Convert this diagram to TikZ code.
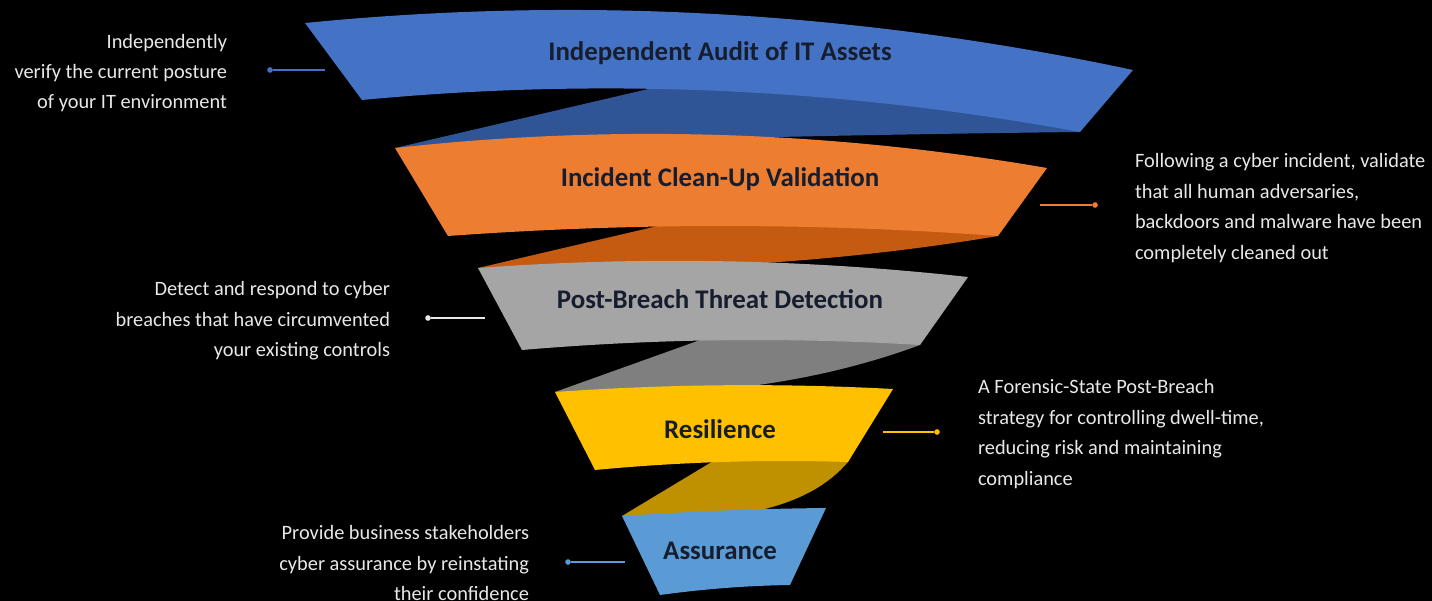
\documentclass[tikz,border=0pt]{standalone}
\usepackage{fontspec}
\setmainfont{Carlito}
\usetikzlibrary{calc}

\definecolor{auditblue}{HTML}{4472C4}
\definecolor{auditdark}{HTML}{2F5597}
\definecolor{cleanorange}{HTML}{ED7D31}
\definecolor{cleandark}{HTML}{C55A11}
\definecolor{breachgray}{HTML}{A5A5A5}
\definecolor{breachdark}{HTML}{7F7F7F}
\definecolor{resgold}{HTML}{FFC000}
\definecolor{resdark}{HTML}{BF9000}
\definecolor{assureblue}{HTML}{5B9BD5}
\definecolor{notegray}{HTML}{E8E8E8}
\definecolor{labelink}{HTML}{161D2E}

% front of a funnel band: corners tl, tr, br, bl and bulge points tc, bc
\newcommand\DrawBand[2]{%
  \fill[#1] (#2tl) .. controls ($(#2tl)!2/3!(#2tc)$) and ($(#2tr)!2/3!(#2tc)$) .. (#2tr)
    -- (#2br) .. controls ($(#2br)!2/3!(#2bc)$) and ($(#2bl)!2/3!(#2bc)$) .. (#2bl)
    -- cycle;
}
% back of a band, turning from its lower right corner into the next band
\newcommand\DrawTwist[3]{%
  \fill[#1] (#3tl) -- (#2d) -- (#2u) -- (#2v) -- (#2br)
    .. controls ($(#2br)!2/3!(#2c)$) and ($(#3tl)!2/3!(#2c)$) .. (#3tl) -- cycle;
}

\tikzset{%
  x=0.02cm, y=-0.02cm, % one unit per pixel
  inner sep=0pt,%
  outer sep=0pt,%
  band label/.style={font=\fontsize{15.3}{18}\selectfont\bfseries, text=labelink},
  note/.style={font=\fontsize{11.6}{17.3}\selectfont, text=notegray},
  lead/.style={line width=1.1pt},
  lead dot/.style={circle, minimum size=3.2pt, fill}%
}

\begin{document}
\begin{tikzpicture}

\useasboundingbox (0,0) rectangle (1432,601);
\fill[black] (0,0) rectangle (1432,601);

%% band corners and bulge points

\coordinate (b1tl) at (305,23);   \coordinate (b1tc) at (719,-18); \coordinate (b1tr) at (1133,70);
\coordinate (b1br) at (1080,132); \coordinate (b1bc) at (721,66);  \coordinate (b1bl) at (362,100);

\coordinate (b2tl) at (395,148);  \coordinate (b2tc) at (721,112); \coordinate (b2tr) at (1047,168);
\coordinate (b2br) at (998,236);  \coordinate (b2bc) at (723,216); \coordinate (b2bl) at (448,236);

\coordinate (b3tl) at (478,268);  \coordinate (b3tc) at (723,250); \coordinate (b3tr) at (968,277);
\coordinate (b3br) at (920,345);  \coordinate (b3bc) at (721,333); \coordinate (b3bl) at (522,350);

\coordinate (b4tl) at (555,392);  \coordinate (b4tc) at (724,380); \coordinate (b4tr) at (893,389);
\coordinate (b4br) at (848,462);  \coordinate (b4bc) at (721,458); \coordinate (b4bl) at (595,470);

\coordinate (b5tl) at (622,516);  \coordinate (b5tc) at (724,509); \coordinate (b5tr) at (826,508);
\coordinate (b5br) at (790,585);  \coordinate (b5bc) at (725,586); \coordinate (b5bl) at (660,595);

%% back sides (d on the lower edge, u and v hidden inside the band, c bends the fold)

\coordinate (b1d) at (657,87);  \coordinate (b1u) at (660,66);  \coordinate (b1v) at (1092,92);  \coordinate (b1c) at (730,136);
\coordinate (b2d) at (662,225); \coordinate (b2u) at (665,205); \coordinate (b2v) at (1005,212); \coordinate (b2c) at (760,276);
\coordinate (b3d) at (703,339); \coordinate (b3u) at (706,320); \coordinate (b3v) at (925,325);  \coordinate (b3c) at (760,404);
\coordinate (b4d) at (715,460); \coordinate (b4u) at (718,445); \coordinate (b4v) at (853,447);  \coordinate (b4c) at (790,530);

\DrawTwist{auditdark}{b1}{b2}
\DrawTwist{cleandark}{b2}{b3}
\DrawTwist{breachdark}{b3}{b4}
\DrawTwist{resdark}{b4}{b5}

%% front sides

\DrawBand{auditblue}{b1}
\DrawBand{cleanorange}{b2}
\DrawBand{breachgray}{b3}
\DrawBand{resgold}{b4}
\DrawBand{assureblue}{b5}

\node[band label, anchor=base] (l1) at (720,61) {Independent Audit of IT Assets};
\node[band label, anchor=base] (l2) at (720,187) {Incident Clean-Up Validation};
\node[band label, anchor=base] (l3) at (720,308) {Post-Breach Threat Detection};
\node[band label, anchor=base] (l4) at (720,438) {Resilience};
\node[band label, anchor=base] (l5) at (720,559) {Assurance};

%% notes and their leads

\node[note, anchor=east, align=right] (n1) at (227,73)
  {Independently\\verify the current posture\\of your IT environment};
\node[note, anchor=west, align=left] (n2) at (1135,208)
  {Following a cyber incident, validate\\that all human adversaries,\\backdoors and malware have been\\completely cleaned out};
\node[note, anchor=east, align=right] (n3) at (390,321)
  {Detect and respond to cyber\\breaches that have circumvented\\your existing controls};
\node[note, anchor=west, align=left] (n4) at (978,434)
  {A Forensic-State Post-Breach\\strategy for controlling dwell-time,\\reducing risk and maintaining\\compliance};
\node[note, anchor=east, align=right] (n5) at (529,563)
  {Provide business stakeholders\\cyber assurance by reinstating\\their confidence};

\node[lead dot, fill=auditblue] (p1) at (270,70) {};
\node[lead dot, fill=cleanorange] (p2) at (1095,205) {};
\node[lead dot, fill=notegray] (p3) at (428,318) {};
\node[lead dot, fill=resgold] (p4) at (937,432) {};
\node[lead dot, fill=assureblue] (p5) at (568,562) {};
\coordinate (q1) at (325,70);
\coordinate (q2) at (1040,205);
\coordinate (q3) at (485,318);
\coordinate (q4) at (883,432);
\coordinate (q5) at (625,562);
\draw[lead, auditblue] (p1) -- (q1);
\draw[lead, cleanorange] (q2) -- (p2);
\draw[lead, notegray] (p3) -- (q3);
\draw[lead, resgold] (q4) -- (p4);
\draw[lead, assureblue] (p5) -- (q5);

\end{tikzpicture}
\end{document}
